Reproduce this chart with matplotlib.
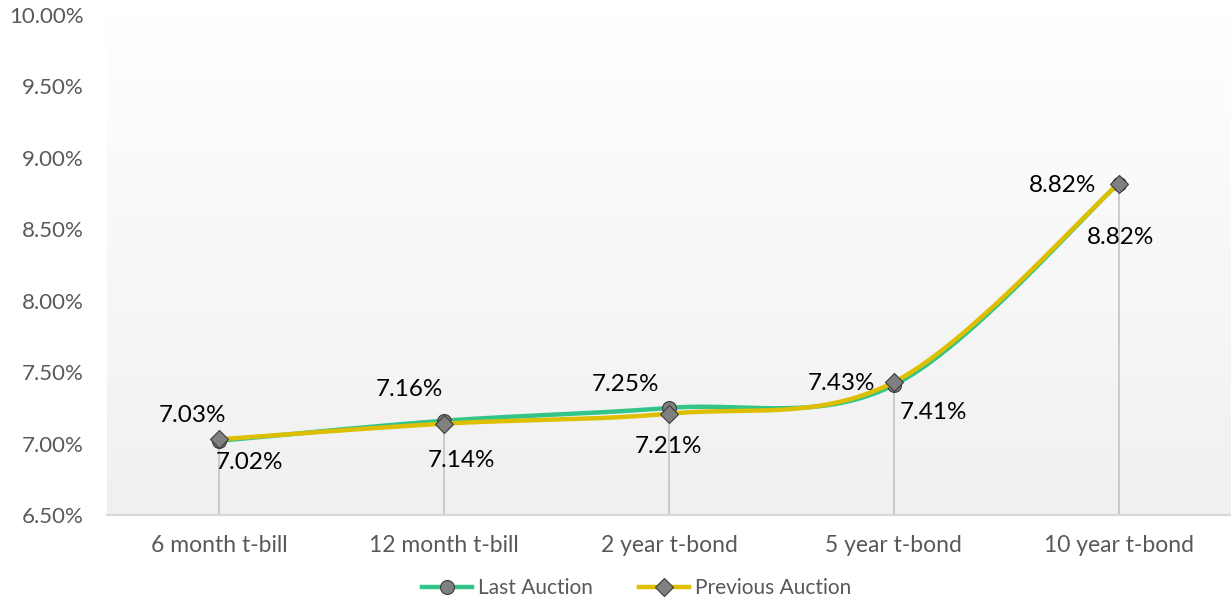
import numpy as np
import matplotlib
matplotlib.use("Agg")
import matplotlib.pyplot as plt
from matplotlib.ticker import FuncFormatter

# data
categories = ["6 month t-bill", "12 month t-bill", "2 year t-bond", "5 year t-bond", "10 year t-bond"]
last_auction = [7.02, 7.16, 7.25, 7.41, 8.82]
prev_auction = [7.03, 7.14, 7.21, 7.43, 8.82]

# label offsets in pixels (dx, dy) from each point
last_offsets = [(30, -22), (-35, 31), (-44, 23), (40, -27), (2, -54)]
prev_offsets = [(-27, 24), (17, -37), (-1, -33), (-52, -1), (-56, -2)]

green = "#33C48A"
yellow = "#DDBF00"
grey_txt = "#595959"

plt.rcParams["font.family"] = ["Lato", "DejaVu Sans"]


def smooth(x, y, n=60):
    # bezier smoothing like excel's "smoothed line"
    p = np.column_stack([x, y]).astype(float)
    pts = np.vstack([p[0], p, p[-1]])
    out = []
    t = np.linspace(0, 1, n)[:, None]
    for i in range(1, len(pts) - 2):
        p0, p3 = pts[i], pts[i + 1]
        c1 = p0 + (pts[i + 1] - pts[i - 1]) / 6.0
        c2 = p3 - (pts[i + 2] - pts[i]) / 6.0
        seg = ((1 - t) ** 3) * p0 + 3 * ((1 - t) ** 2) * t * c1 + 3 * (1 - t) * t ** 2 * c2 + t ** 3 * p3
        out.append(seg if i == 1 else seg[1:])
    s = np.vstack(out)
    return s[:, 0], s[:, 1]


fig = plt.figure(figsize=(12.31, 6.01), dpi=100)
ax = fig.add_axes([0.087, 0.143, 0.913, 0.832])

xs = np.arange(len(categories))
ax.set_xlim(-0.5, len(categories) - 0.5)
ax.set_ylim(6.5, 10.0)

# gradient background, white at top to light grey at bottom
grad = np.linspace(1.0, 0.0, 256)[:, None]
ax.imshow(grad, extent=[-0.5, len(categories) - 0.5, 6.5, 10.0], aspect="auto",
          cmap=matplotlib.colors.LinearSegmentedColormap.from_list("g", ["#F0F0F0", "#FFFFFF"]),
          zorder=0, origin="upper")

# drop lines
for i in xs:
    top = max(last_auction[i], prev_auction[i])
    ax.plot([i, i], [6.5, top], color="#C4C4C4", lw=1.2, zorder=1)

sx, sy = smooth(xs, last_auction)
ax.plot(sx, sy, color=green, lw=3.2, solid_capstyle="round", zorder=2)
ax.plot(xs, last_auction, ls="none", marker="o", ms=10, mfc="#808080", mec="#3a3a3a", mew=0.8, zorder=3)

sx, sy = smooth(xs, prev_auction)
ax.plot(sx, sy, color=yellow, lw=3.2, solid_capstyle="round", zorder=4)
ax.plot(xs, prev_auction, ls="none", marker="D", ms=9, mfc="#808080", mec="#3a3a3a", mew=0.8, zorder=5)

for vals, offs in [(last_auction, last_offsets), (prev_auction, prev_offsets)]:
    for i, v in enumerate(vals):
        ax.annotate("%.2f%%" % v, (i, v), xytext=offs[i], textcoords="offset pixels",
                    ha="center", va="center", fontsize=17.5, color="black", zorder=6)

ax.yaxis.set_major_formatter(FuncFormatter(lambda v, p: "%.2f%%" % v))
ax.set_yticks(np.arange(6.5, 10.01, 0.5))
ax.set_xticks(xs)
ax.set_xticklabels(categories)
ax.tick_params(axis="y", length=0, labelsize=16, labelcolor=grey_txt, pad=17)
ax.tick_params(axis="x", length=0, labelsize=16.5, labelcolor=grey_txt, pad=14)

for s in ["top", "right", "left"]:
    ax.spines[s].set_visible(False)
ax.spines["bottom"].set_color("#D9D9D9")
ax.spines["bottom"].set_linewidth(1.5)

h1 = plt.Line2D([], [], color=green, lw=3.2, marker="o", ms=10, mfc="#808080", mec="#3a3a3a", mew=0.8)
h2 = plt.Line2D([], [], color=yellow, lw=3.2, marker="D", ms=9, mfc="#808080", mec="#3a3a3a", mew=0.8)
fig.legend([h1, h2], ["Last Auction", "Previous Auction"], loc="center", ncol=2,
           bbox_to_anchor=(0.517, 1 - 588 / 601), frameon=False, fontsize=15,
           labelcolor=grey_txt, handlelength=2.4, columnspacing=2.2, handletextpad=0.3)

fig.savefig("out.png", dpi=100)
